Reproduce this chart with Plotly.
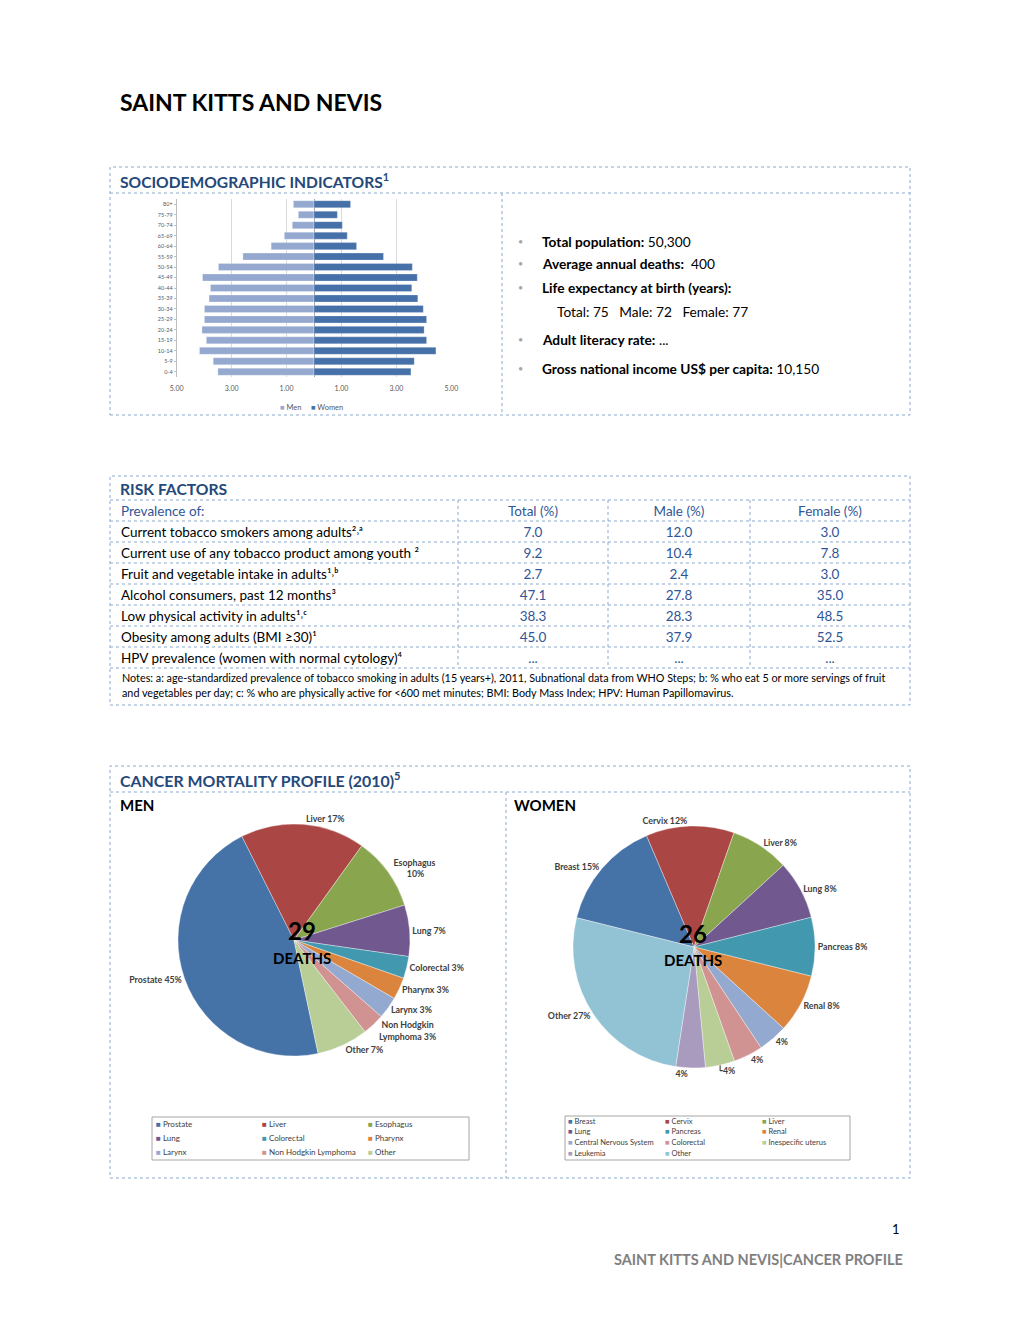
import plotly.graph_objects as go

W, H = 1020, 1320
FONT = "Lato, 'Open Sans', sans-serif"
NAVY = "#24487A"
BLUE = "#2F5597"
DOT = "#8DA9CF"

# ---------------- data ----------------
age_groups = ["0-4", "5-9", "10-14", "15-19", "20-24", "25-29", "30-34", "35-39",
              "40-44", "45-49", "50-54", "55-59", "60-64", "65-69", "70-74", "75-79", "80+"]
men_pct = [3.50, 3.67, 4.17, 3.92, 4.08, 3.99, 3.99, 3.82, 3.77, 4.06, 3.48, 2.59,
           1.56, 1.08, 0.79, 0.57, 0.75]
women_pct = [3.53, 3.65, 4.44, 4.10, 4.01, 4.10, 3.98, 3.78, 3.56, 3.76, 3.58, 2.53,
             1.55, 1.21, 1.03, 0.85, 1.33]
pyr_series = ["Men", "Women"]
pyr_colors = ["#95A9D0", "#4571A8"]
pyr_tickvals = [-5, -3, -1, 1, 3, 5]
pyr_ticktext = ["5.00", "3.00", "1.00", "1.00", "3.00", "5.00"]

socio_labels = ["Total population:", "Average annual deaths:", "Life expectancy at birth (years):",
                "Adult literacy rate:", "Gross national income US$ per capita:"]
socio_values = ["50,300", " 400", "", "...", "10,150"]
life_exp = ["Total: 75", "Male: 72", "Female: 77"]

risk_factors = ["Current tobacco smokers among adults\u00B2\u02D2\u1D43",
                "Current use of any tobacco product among youth \u00B2",
                "Fruit and vegetable intake in adults\u00B9\u02D2\u1D47",
                "Alcohol consumers, past 12 months\u00B3",
                "Low physical activity in adults\u00B9\u02D2\u1D9C",
                "Obesity among adults (BMI \u226530)\u00B9",
                "HPV prevalence (women with normal cytology)\u2074"]
risk_total = [7.0, 9.2, 2.7, 47.1, 38.3, 45.0, None]
risk_male = [12.0, 10.4, 2.4, 27.8, 28.3, 37.9, None]
risk_female = [3.0, 7.8, 3.0, 35.0, 48.5, 52.5, None]
risk_header = ["Prevalence of:", "Total (%)", "Male (%)", "Female (%)"]
notes = ["Notes: a: age-standardized prevalence of tobacco smoking in adults (15 years+), 2011, Subnational data from WHO Steps; b: % who eat 5 or more servings of fruit",
         "and vegetables per day; c: % who are physically active for <600 met minutes; BMI: Body Mass Index; HPV: Human Papillomavirus."]

men_causes = ["Prostate", "Liver", "Esophagus", "Lung", "Colorectal", "Pharynx", "Larynx",
              "Non Hodgkin Lymphoma", "Other"]
men_share = [45, 17, 10, 7, 3, 3, 3, 3, 7]
men_pie_names = ["Prostate", "Liver", "Esophagus<br>", "Lung", "Colorectal", "Pharynx", "Larynx",
                 "Non Hodgkin<br>Lymphoma", "Other"]
men_deaths = 29

women_causes = ["Breast", "Cervix", "Liver", "Lung", "Pancreas", "Renal", "Central Nervous System",
                "Colorectal", "Inespecific uterus", "Leukemia", "Other"]
women_share = [15, 12, 8, 8, 8, 8, 4, 4, 4, 4, 27]
women_pie_names = ["Breast", "Cervix", "Liver", "Lung", "Pancreas", "Renal", "", "", "", "", "Other"]
women_deaths = 26

men_colors = ["#4572A7", "#AA4643", "#89A54E", "#71588F", "#4198AF", "#DB843D", "#93A9CF",
              "#D19392", "#B9CD96"]
women_colors = ["#4572A7", "#AA4643", "#89A54E", "#71588F", "#4198AF", "#DB843D", "#93A9CF",
                "#D19392", "#B9CD96", "#A99BBD", "#92C3D4"]


def px(x):
    return x / W


def py(y):
    return 1 - y / H


fig = go.Figure()
annotations = []
shapes = []


def text(x, y, s, size=13, color="black", xanchor="left", yanchor="middle", family=FONT):
    annotations.append(dict(x=px(x), y=py(y), xref="paper", yref="paper", text=s, showarrow=False,
                            xanchor=xanchor, yanchor=yanchor, borderpad=0,
                            font=dict(size=size, color=color, family=family)))


def hline(x0, x1, y, color=DOT, dash="dot", width=1):
    shapes.append(dict(type="line", xref="paper", yref="paper", x0=px(x0), x1=px(x1),
                       y0=py(y), y1=py(y), line=dict(color=color, width=width, dash=dash)))


def vline(x, y0, y1, color=DOT, dash="dot", width=1):
    shapes.append(dict(type="line", xref="paper", yref="paper", x0=px(x), x1=px(x),
                       y0=py(y0), y1=py(y1), line=dict(color=color, width=width, dash=dash)))


def rect(x0, y0, x1, y1, color=DOT, dash="dot", width=1):
    shapes.append(dict(type="rect", xref="paper", yref="paper", x0=px(x0), x1=px(x1),
                       y0=py(y1), y1=py(y0), line=dict(color=color, width=width, dash=dash)))


# ---------------- page title ----------------
text(119, 102, "<b>SAINT KITTS AND NEVIS</b>", size=23)

# ---------------- sociodemographic ----------------
rect(110, 167, 910, 415)
hline(110, 910, 193)
vline(502, 193, 415)
text(119, 181, "<b>SOCIODEMOGRAPHIC INDICATORS<sup>1</sup></b>", size=15.6, color=NAVY)

men_neg = [-v for v in men_pct]
for name, vals, col in zip(pyr_series, [men_neg, women_pct], pyr_colors):
    fig.add_trace(go.Bar(y=age_groups, x=vals, orientation="h", name=name,
                         marker=dict(color=col, line=dict(color="rgba(255,255,255,0.5)", width=0.5)),
                         xaxis="x", yaxis="y", hoverinfo="skip", showlegend=False))
# compact legend like the original
text(279, 407, f"<span style='color:{pyr_colors[0]}'>\u25A0</span> {pyr_series[0]}", size=7.5, color="#595959")
text(310, 407, f"<span style='color:{pyr_colors[1]}'>\u25A0</span> {pyr_series[1]}", size=7.5, color="#595959")

socio_y = [241, 264, 288, 339, 368]
for lab, val, yy in zip(socio_labels, socio_values, socio_y):
    text(520, yy, "\u2022", size=9, color="#A6A6A6", xanchor="center")
    text(541, yy, f"<b>{lab}</b> {val}".rstrip(), size=13.7)
text(556, 311, "   ".join(life_exp), size=13.7)

# ---------------- risk factors ----------------
rect(110, 476, 910, 705)
hline(110, 910, 500)
for yy in [521, 542, 563, 584, 605, 626, 647, 668]:
    hline(110, 910, yy)
for xx in [458, 608, 750]:
    vline(xx, 500, 668)
text(119, 489, "<b>RISK FACTORS</b>", size=15.7, color=NAVY)


def fmt(v):
    return "..." if v is None else f"{v:.1f}"


fig.add_trace(go.Table(
    domain=dict(x=[px(113), px(910)], y=[py(673), py(498)]),
    columnwidth=[345, 150, 142, 160],
    header=dict(values=risk_header, height=21, align=["left", "center", "center", "center"],
                fill=dict(color="rgba(0,0,0,0)"), line=dict(width=0, color="rgba(0,0,0,0)"),
                font=dict(size=13.5, color=BLUE, family=FONT)),
    cells=dict(values=[risk_factors, [fmt(v) for v in risk_total], [fmt(v) for v in risk_male],
                       [fmt(v) for v in risk_female]],
               height=21, align=["left", "center", "center", "center"],
               fill=dict(color="rgba(0,0,0,0)"), line=dict(width=0, color="rgba(0,0,0,0)"),
               font=dict(size=13.5, color=["black", BLUE, BLUE, BLUE], family=FONT)),
))
text(121, 677, notes[0], size=10.8)
text(121, 692, notes[1], size=10.8)

# ---------------- cancer mortality ----------------
rect(110, 766, 910, 1178)
hline(110, 910, 792)
vline(506, 792, 1178)
text(119, 779, "<b>CANCER MORTALITY PROFILE (2010)<sup>5</sup></b>", size=15.9, color=NAVY)
text(119, 805, "<b>MEN</b>", size=15)
text(513, 805, "<b>WOMEN</b>", size=15)

men_text = [f"{n} {v}%" for n, v in zip(men_pie_names, men_share)]
women_text = [f"{n} {v}%".strip() for n, v in zip(women_pie_names, women_share)]

fig.add_trace(go.Pie(labels=men_causes, values=men_share, text=men_text, textinfo="text",
                     textposition="outside", sort=False, direction="clockwise", rotation=168,
                     marker=dict(colors=men_colors, line=dict(color="rgba(255,255,255,0.6)", width=0.6)),
                     textfont=dict(size=8.8, color="#404040", family=FONT, weight="bold"),
                     domain=dict(x=[px(178), px(410)], y=[py(1056), py(824)]),
                     showlegend=False, hoverinfo="skip"))
fig.add_trace(go.Pie(labels=women_causes, values=women_share, text=women_text, textinfo="text",
                     textposition="outside", sort=False, direction="clockwise", rotation=284,
                     marker=dict(colors=women_colors, line=dict(color="rgba(255,255,255,0.6)", width=0.6)),
                     textfont=dict(size=8.8, color="#404040", family=FONT, weight="bold"),
                     domain=dict(x=[px(573), px(815)], y=[py(1068), py(826)]),
                     showlegend=False, hoverinfo="skip"))

text(302, 930, f"<b>{men_deaths}</b>", size=24, xanchor="center")
text(302, 958, "<b>DEATHS</b>", size=15, xanchor="center")
text(693, 933, f"<b>{women_deaths}</b>", size=24, xanchor="center")
text(693, 960, "<b>DEATHS</b>", size=15, xanchor="center")

# legends (boxes with colored keys)
rect(152, 1117, 469, 1160, color="#A6A6A6", dash="solid")
for i, (lab, col) in enumerate(zip(men_causes, men_colors)):
    cx = 155 + 106 * (i % 3)
    cy = 1124 + 14 * (i // 3)
    text(cx, cy, f"<span style='color:{col}'>\u25A0</span> {lab}", size=8, color="#404040")

rect(565, 1116, 850, 1160, color="#A6A6A6", dash="solid")
for i, (lab, col) in enumerate(zip(women_causes, women_colors)):
    cx = 567 + 97 * (i % 3)
    cy = 1121 + 10.7 * (i // 3)
    text(cx, cy, f"<span style='color:{col}'>\u25A0</span> {lab}", size=7.5, color="#404040")

# ---------------- footer ----------------
text(901, 1229, "1", size=13, xanchor="right")
text(904, 1259, "<b>SAINT KITTS AND NEVIS|CANCER PROFILE</b>", size=14.5, color="#7F7F7F", xanchor="right")

fig.update_layout(
    width=W, height=H, margin=dict(l=0, r=0, t=0, b=0, autoexpand=False),
    paper_bgcolor="white", plot_bgcolor="white",
    font=dict(family=FONT),
    barmode="overlay", bargap=0.33, showlegend=False,
    xaxis=dict(domain=[px(176.7), px(451.3)], range=[-5, 5], tickvals=pyr_tickvals,
               ticktext=pyr_ticktext, tickfont=dict(size=7, color="#595959"),
               showgrid=True, gridcolor="#D9D9D9", zeroline=True, zerolinecolor="#A6A6A6",
               zerolinewidth=1, showline=False, fixedrange=True, automargin=False,
               ticklabelstandoff=6),
    yaxis=dict(domain=[py(377), py(199)], tickfont=dict(size=5.5, color="#595959"),
               showline=True, linecolor="#BFBFBF", showgrid=False, ticks="outside",
               ticklen=2, tickcolor="#BFBFBF", fixedrange=True, automargin=False),
    annotations=annotations, shapes=shapes,
)

fig.write_html("out.html", config={"displayModeBar": False},
               post_script="document.body.style.margin='0';")
